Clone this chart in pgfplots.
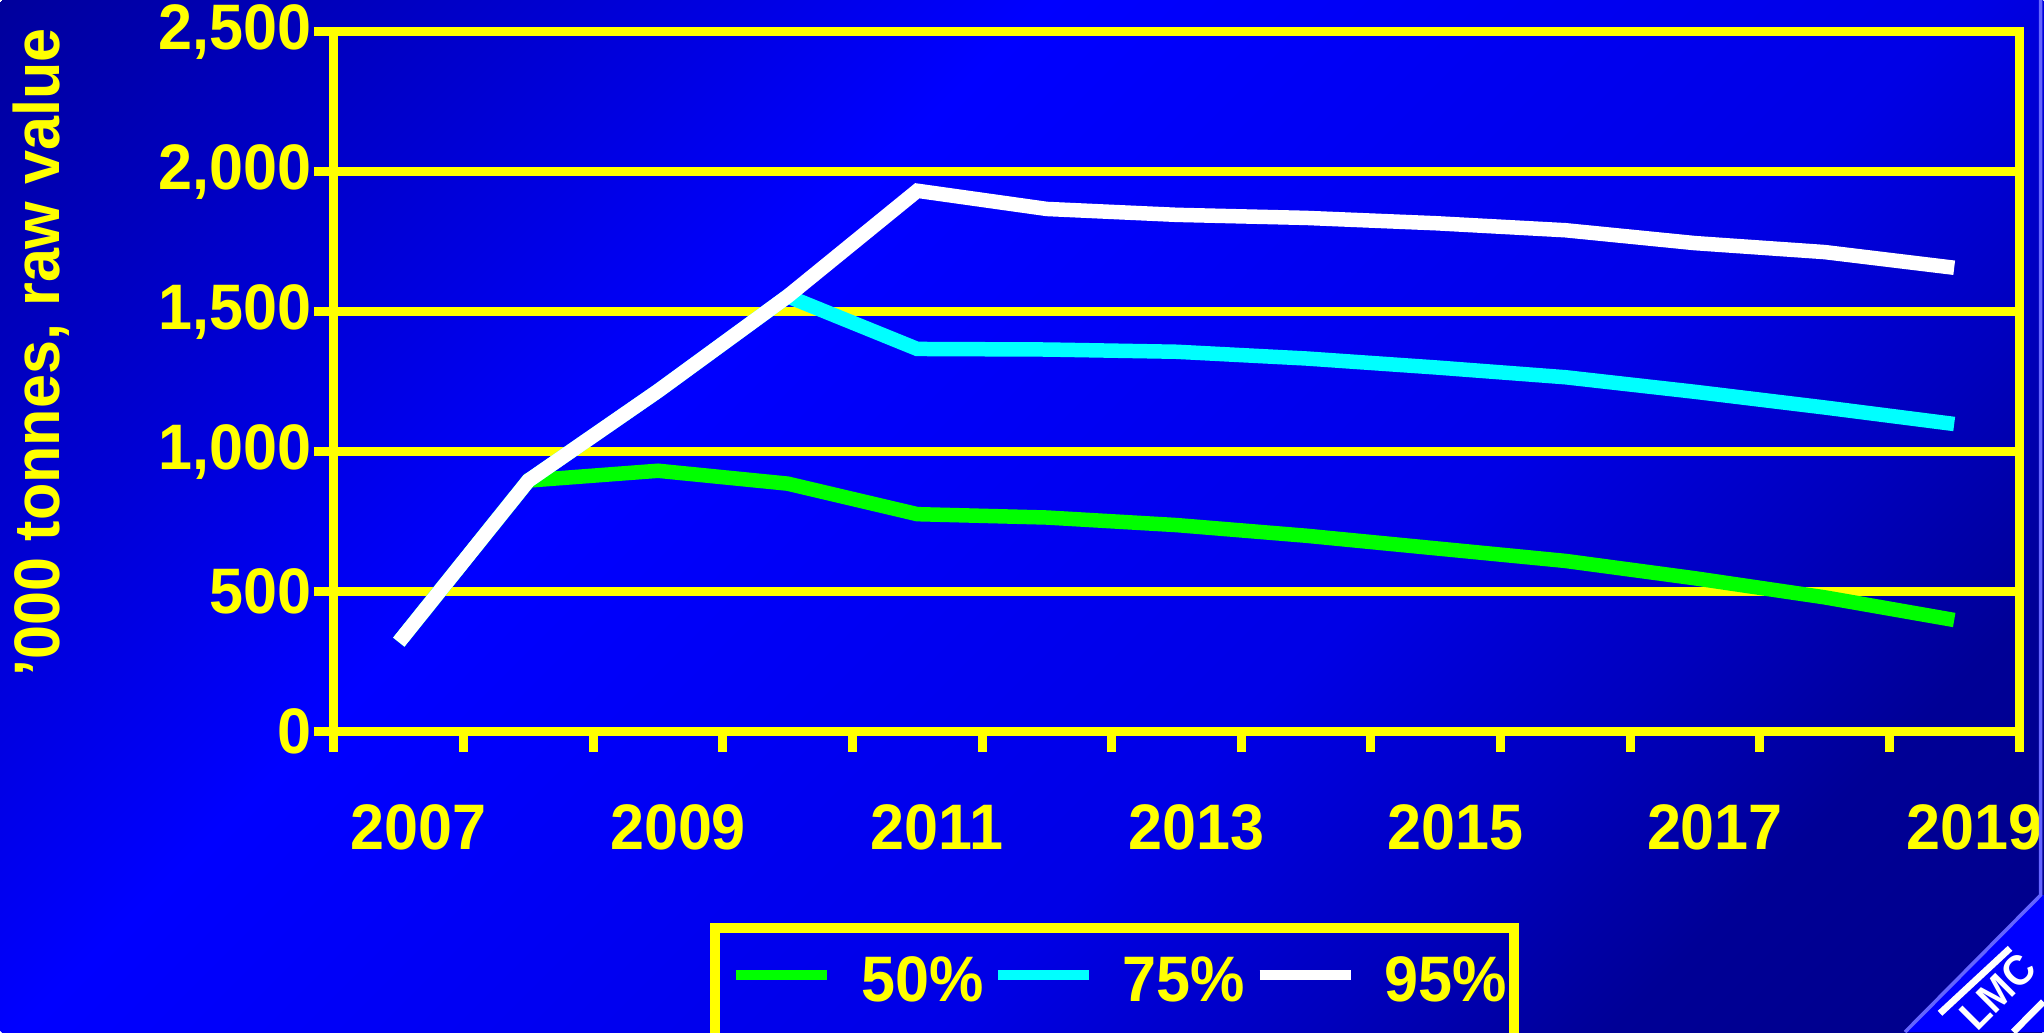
\documentclass[border=0pt]{standalone}
\usepackage{pgfplots}
\pgfplotsset{compat=1.18}
\usepackage{fontspec}
\setmainfont{Liberation Sans}[FakeStretch=0.95]
\definecolor{ylw}{RGB}{255,255,0}
\definecolor{grn}{RGB}{0,255,0}
\definecolor{cyn}{RGB}{0,255,255}
\definecolor{bgMID}{RGB}{0,0,255}
\definecolor{bg0}{RGB}{0,0,156}
\definecolor{bg1}{RGB}{0,0,255}
\definecolor{bg2}{RGB}{0,0,242}
\definecolor{bg3}{RGB}{0,0,230}
\definecolor{bg4}{RGB}{0,0,190}
\definecolor{bg5}{RGB}{0,0,150}
\definecolor{bg6}{RGB}{0,0,136}
\definecolor{logoline}{RGB}{100,100,255}
\pgfdeclarehorizontalshading{slidebg}{100bp}{color(0bp)=(bg0); color(34bp)=(bg1); color(50bp)=(bg2); color(64bp)=(bg3); color(76bp)=(bg4); color(86bp)=(bg5); color(100bp)=(bg6)}
\newcommand\cf{\fontsize{18.3pt}{22pt}\selectfont\bfseries}

\pgfplotstableread{
x  p50   p75   p95
0  320   320   320
1  897   897   897
2  932   1217  1217
3  886   1555  1555
4  777   1367  1932
5  765   1365  1867
6  738   1357  1846
7  700   1333  1835
8  655   1301  1816
9  610   1266  1791
10 548   1214  1745
11 480   1158  1713
12 399   1099  1657
}\datatable

\begin{document}
\begin{tikzpicture}
\begin{scope}
\clip (-33.4mm,-30.03mm) rectangle (171mm,73.17mm);
\node[inner sep=0pt, outer sep=0pt, rotate=-45, scale=6.16] at (68.8mm,21.57mm) {\pgfuseshading{slidebg}};
\end{scope}
\begin{axis}[
  at={(0,0)}, anchor=south west,
  scale only axis, width=168.5mm, height=70mm,
  xmin=-0.5, xmax=12.5, ymin=0, ymax=2500,
  axis line style={ylw, line width=0.9mm},
  xtick={-0.5,0.5,...,12.5}, xticklabels={},
  ytick={0,500,...,2500},
  yticklabels={0,500,{1,000},{1,500},{2,000},{2,500}},
  tick align=outside, tick pos=left, major tick length=2mm,
  tick style={ylw, line width=0.9mm},
  ymajorgrids, grid style={ylw, line width=0.9mm},
  yticklabel style={anchor=east, inner sep=0pt, xshift=-0.2mm, font=\cf, text=ylw},
  extra x ticks={0,2,4,6,8,10,12},
  extra x tick labels={2007,2009,2011,2013,2015,2017,2019},
  extra x tick style={major tick length=0pt, grid=none, tick style={draw=none},
    xticklabel style={anchor=center, inner sep=0pt, yshift=-9.58mm, xshift=2mm, font=\cf, text=ylw}},
  ylabel={'000 tonnes, raw value},
  ylabel style={at={(axis description cs:-0.163,0.5417)}, anchor=base, font=\cf, text=ylw},
  legend columns=3,
  legend cell align=left,
  legend style={at={(axis description cs:0.2229,-0.2737)}, anchor=north west,
    draw=ylw, line width=1mm, fill=none, inner xsep=0.7mm, inner ysep=2.6mm,
    font=\cf, text=ylw, column sep=0pt,
    nodes={inner sep=0pt, text height=4.75mm, text depth=1mm}},
  legend image code/.code={\path[draw=none] (-1.45mm,0mm) -- (12.5mm,0mm);
    \draw[line width=1mm] (0mm,0.8mm) -- (9.1mm,0.8mm);},
]
\addplot[grn, line width=1.45mm] table[x=x, y=p50] {\datatable};
\addlegendentry{50\%}
\addplot[cyn, line width=1.45mm] table[x=x, y=p75] {\datatable};
\addlegendentry{75\%}
\addplot[white, line width=1.45mm] table[x=x, y=p95] {\datatable};
\addlegendentry{95\%}
\end{axis}
% corner logo
\fill[bgMID] (157.1mm,-30.03mm) -- (170.67mm,-16.33mm) -- (171mm,-16.33mm) -- (171mm,-30.03mm) -- cycle;
\draw[logoline, line width=0.35mm] (170.67mm,73.17mm) -- (170.67mm,-16.33mm) -- (157.1mm,-30.03mm);
\draw[white, line width=0.67mm] (160.6mm,-28.16mm) -- (167.6mm,-21.66mm);
\draw[white, line width=0.67mm] (167.93mm,-30.03mm) -- (170.93mm,-27mm);
\node[white, rotate=45, font=\fontsize{12pt}{14pt}\selectfont\bfseries, inner sep=0pt] at (166.4mm,-26.0mm) {LMC};
\pgfresetboundingbox
\path[use as bounding box] (-33.4mm,-30.03mm) rectangle (171mm,73.17mm);
\end{tikzpicture}
\end{document}
